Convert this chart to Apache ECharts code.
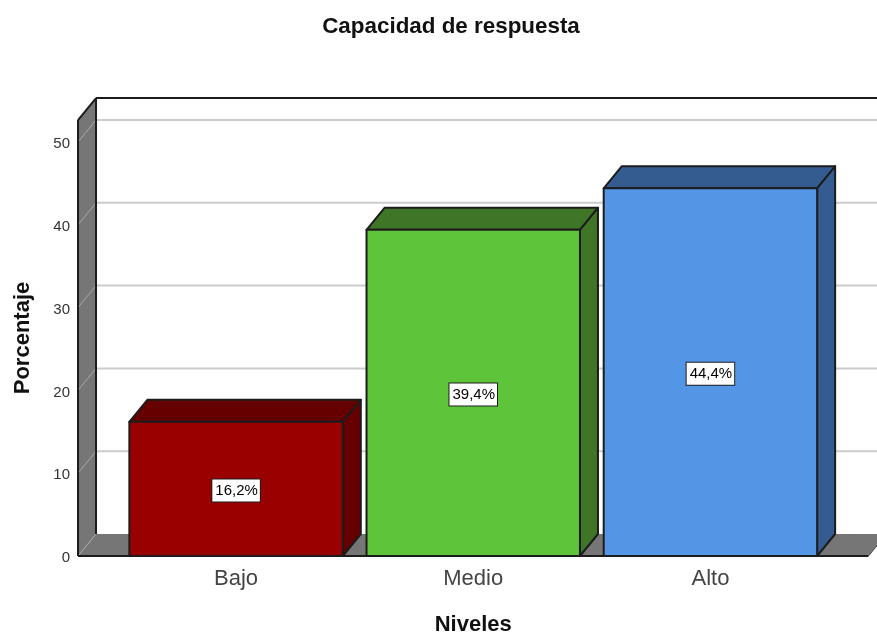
<!DOCTYPE html>
<html>
<head>
<meta charset="utf-8">
<style>html,body{margin:0;padding:0;background:#fff}#chart{width:877px;height:633px}</style>
<script src="https://cdn.jsdelivr.net/npm/echarts@6/dist/echarts.min.js"></script>
</head>
<body>
<div id="chart"></div>
<script>
// Chart content
const chartTitle = 'Capacidad de respuesta';
const xAxisTitle = 'Niveles';
const yAxisTitle = 'Porcentaje';
const levels = ['Bajo', 'Medio', 'Alto'];
const percents = [16.2, 39.4, 44.4];
const tickValues = [0, 10, 20, 30, 40, 50];
const frontColors = ['#990000', '#5ec43a', '#5595e5'];
const sideColors = ['#660000', '#3e7527', '#345c91'];

// Extrusion of the box and of every bar, in pixels
const depthX = 18;
const depthY = 22;
const wallTopValue = 52.65;   // top of the box, on the front-plane scale
const barFraction = 0.9;      // bar width relative to its category band
const sidePadding = 0.1665;   // box overhang beyond the outer bands, in bands

const INK = '#1c1c1c';
const WALL = '#767676';

function frame(params, api) {
  const band = api.size([1, 0])[0];
  const left = api.coord([0, 0])[0] - band * (0.5 + sidePadding);
  const right = api.coord([levels.length - 1, 0])[0] + band * (0.5 + sidePadding);
  const yOf = v => api.coord([0, v])[1];
  const y0 = yOf(0);
  const yTop = yOf(wallTopValue);
  const line = (x1, y1, x2, y2, stroke, lineWidth) => ({
    type: 'line',
    shape: { x1, y1, x2, y2 },
    style: { stroke, lineWidth }
  });
  const poly = (points, fill) => ({ type: 'polygon', shape: { points }, style: { fill } });
  const children = [];

  // Back wall grid lines
  tickValues.slice(1).forEach(v => {
    children.push(line(left + depthX, yOf(v) - depthY, right + depthX, yOf(v) - depthY, '#cccccc', 2));
  });

  // Left wall and floor
  children.push(poly([[left, y0], [left, yTop], [left + depthX, yTop - depthY], [left + depthX, y0 - depthY]], WALL));
  children.push(poly([[left, y0], [left + depthX, y0 - depthY], [right + depthX, y0 - depthY], [right, y0]], WALL));
  tickValues.forEach(v => {
    children.push(line(left, yOf(v), left + depthX, yOf(v) - depthY, '#a8a8a8', 1));
  });

  // Box outline
  children.push(line(left, y0, left, yTop, INK, 2));
  children.push(line(left, yTop, left + depthX, yTop - depthY, INK, 2));
  children.push(line(left + depthX, yTop - depthY, right + depthX, yTop - depthY, INK, 2));
  children.push(line(left + depthX, yTop - depthY, left + depthX, y0 - depthY, INK, 2));
  children.push(line(left, y0, right, y0, INK, 2));
  children.push(line(right, y0, right + depthX, y0 - depthY, '#4a4a4a', 1));
  return { type: 'group', children };
}

function bar(params, api) {
  const i = api.value(0);
  const v = api.value(1);
  const top = api.coord([i, v]);
  const base = api.coord([i, 0]);
  const w = api.size([1, 0])[0] * barFraction;
  const x0 = top[0] - w / 2;
  const x1 = top[0] + w / 2;
  const style = fill => ({ fill, stroke: INK, lineWidth: 2, lineJoin: 'round' });
  return {
    type: 'group',
    children: [
      {
        type: 'polygon',
        shape: { points: [[x0, top[1]], [x0 + depthX, top[1] - depthY], [x1 + depthX, top[1] - depthY], [x1, top[1]]] },
        style: style(sideColors[i])
      },
      {
        type: 'polygon',
        shape: { points: [[x1, base[1]], [x1, top[1]], [x1 + depthX, top[1] - depthY], [x1 + depthX, base[1] - depthY]] },
        style: style(sideColors[i])
      },
      {
        type: 'rect',
        shape: { x: x0, y: top[1], width: w, height: base[1] - top[1] },
        style: style(frontColors[i])
      },
      {
        type: 'text',
        x: top[0],
        y: (top[1] + base[1]) / 2 + 1.5,
        style: {
          text: v.toFixed(1).replace('.', ',') + '%',
          font: '15px "Liberation Sans"',
          fill: '#000',
          align: 'center',
          verticalAlign: 'middle',
          backgroundColor: '#fff',
          borderColor: INK,
          borderWidth: 1,
          padding: [4, 2, 3, 3]
        }
      }
    ]
  };
}

const chart = echarts.init(document.getElementById('chart'), null, { renderer: 'canvas' });
chart.setOption({
  animation: false,
  backgroundColor: '#fff',
  title: {
    text: chartTitle,
    left: 446,
    top: 11,
    textAlign: 'center',
    textStyle: { fontFamily: 'Liberation Sans', fontSize: 22.4, fontWeight: 'bold', color: '#111' }
  },
  grid: { left: 117.5, right: 48, top: 142, bottom: 77, outerBoundsMode: 'none' },
  xAxis: {
    type: 'category',
    data: levels,
    axisLine: { show: false },
    axisTick: { show: false },
    axisLabel: { margin: 12, fontFamily: 'Liberation Sans', fontSize: 22, color: '#444' },
    name: xAxisTitle,
    nameLocation: 'middle',
    nameGap: 58,
    nameTextStyle: { fontFamily: 'Liberation Sans', fontSize: 22, fontWeight: 'bold', color: '#111' }
  },
  yAxis: {
    type: 'value',
    min: 0,
    max: 50,
    interval: 10,
    offset: 39.5,
    axisLine: { show: false },
    axisTick: { show: false },
    splitLine: { show: false },
    axisLabel: { margin: 8, fontFamily: 'Liberation Sans', fontSize: 15, color: '#333', verticalAlign: 'top', padding: [-5.5, 0, 0, 0] },
    name: yAxisTitle,
    nameLocation: 'middle',
    nameGap: 44,
    nameTextStyle: { fontFamily: 'Liberation Sans', fontSize: 22, fontWeight: 'bold', color: '#111', padding: [0, 0, 0, 22] }
  },
  series: [
    { type: 'custom', z: 1, silent: true, renderItem: frame, data: [[0, 0]], encode: { x: 0, y: 1 } },
    { type: 'custom', z: 2, silent: true, renderItem: bar, data: levels.map((_, i) => [i, percents[i]]), encode: { x: 0, y: 1 } }
  ]
});
</script>
</body>
</html>
